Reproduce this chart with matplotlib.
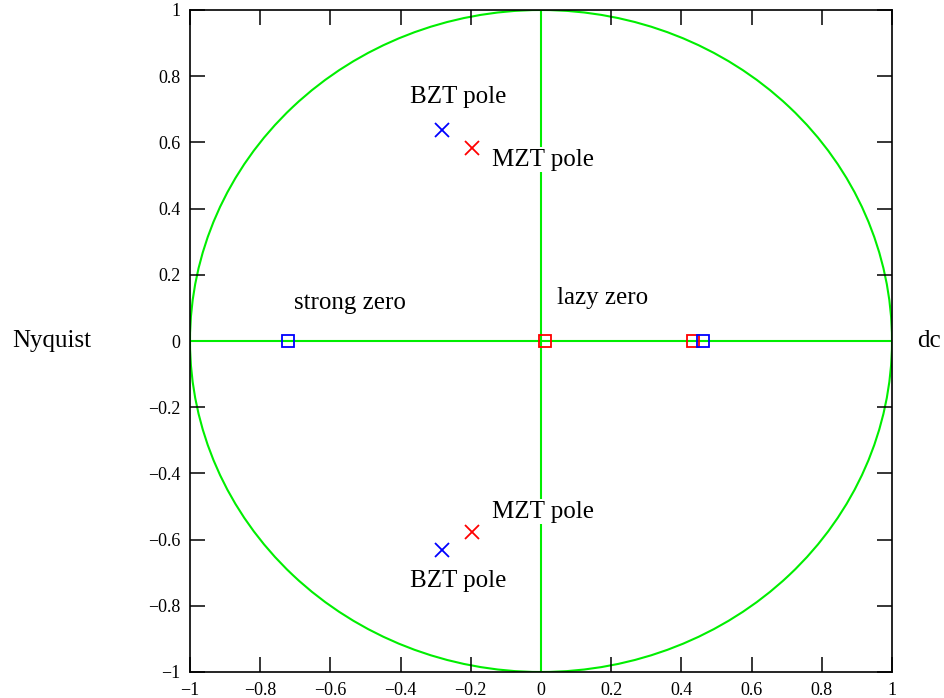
import matplotlib
matplotlib.use('Agg')
import matplotlib.pyplot as plt
from matplotlib.patches import Circle

plt.rcParams['font.family'] = ['Liberation Serif', 'DejaVu Serif']

# poles (x marks) and zeros (squares)
bzt_pole_x = [-0.283, -0.283]
bzt_pole_y = [0.637, -0.630]
mzt_pole_x = [-0.197, -0.197]
mzt_pole_y = [0.582, -0.576]
bzt_zero_x = [-0.720, 0.461]
bzt_zero_y = [0.0, 0.0]
mzt_zero_x = [0.011, 0.434]
mzt_zero_y = [0.0, 0.0]

ticks = [-1, -0.8, -0.6, -0.4, -0.2, 0, 0.2, 0.4, 0.6, 0.8, 1]
tick_labels = ['\u22121', '\u22120.8', '\u22120.6', '\u22120.4', '\u22120.2', '0',
               '0.2', '0.4', '0.6', '0.8', '1']

labels = ['BZT pole', 'MZT pole', 'MZT pole', 'BZT pole', 'strong zero', 'lazy zero']
label_x = [-0.373, -0.140, -0.140, -0.373, -0.704, 0.046]
label_y = [0.737, 0.547, -0.516, -0.724, 0.116, 0.129]

green = '#00ee00'

fig = plt.figure(figsize=(9.45, 6.98), dpi=100)
ax = fig.add_axes([190 / 945, 26 / 698, 702 / 945, 662 / 698])

ax.add_patch(Circle((0, 0), 1, fill=False, edgecolor=green, lw=1.5))
ax.axhline(0, color=green, lw=1.5)
ax.axvline(0, color=green, lw=1.5)

ax.plot(bzt_pole_x, bzt_pole_y, 'x', color='blue', ms=9.5, mew=1.3)
ax.plot(mzt_pole_x, mzt_pole_y, 'x', color='red', ms=9.5, mew=1.3)
ax.plot(mzt_zero_x, mzt_zero_y, 's', mfc='none', mec='red', ms=8, mew=1.3)
ax.plot(bzt_zero_x, bzt_zero_y, 's', mfc='none', mec='blue', ms=8, mew=1.3)

for s, x, y in zip(labels, label_x, label_y):
    ax.text(x, y, s, fontsize=18, ha='left', va='center',
            bbox=dict(facecolor='white', edgecolor='none', pad=1))

ax.text(-1.507, 0, 'Nyquist', fontsize=18, ha='left', va='center', clip_on=False)
ax.text(1.071, 0, 'dc', fontsize=18, ha='left', va='center', clip_on=False)

ax.set_xlim(-1, 1)
ax.set_ylim(-1, 1)
ax.set_xticks(ticks)
ax.set_xticklabels(tick_labels)
ax.set_yticks(ticks)
ax.set_yticklabels(tick_labels)
ax.tick_params(direction='in', length=11, width=1.1, top=True, right=True,
               labelsize=13, pad=7)
for sp in ax.spines.values():
    sp.set_linewidth(1.2)

plt.savefig('out.png', dpi=100)
